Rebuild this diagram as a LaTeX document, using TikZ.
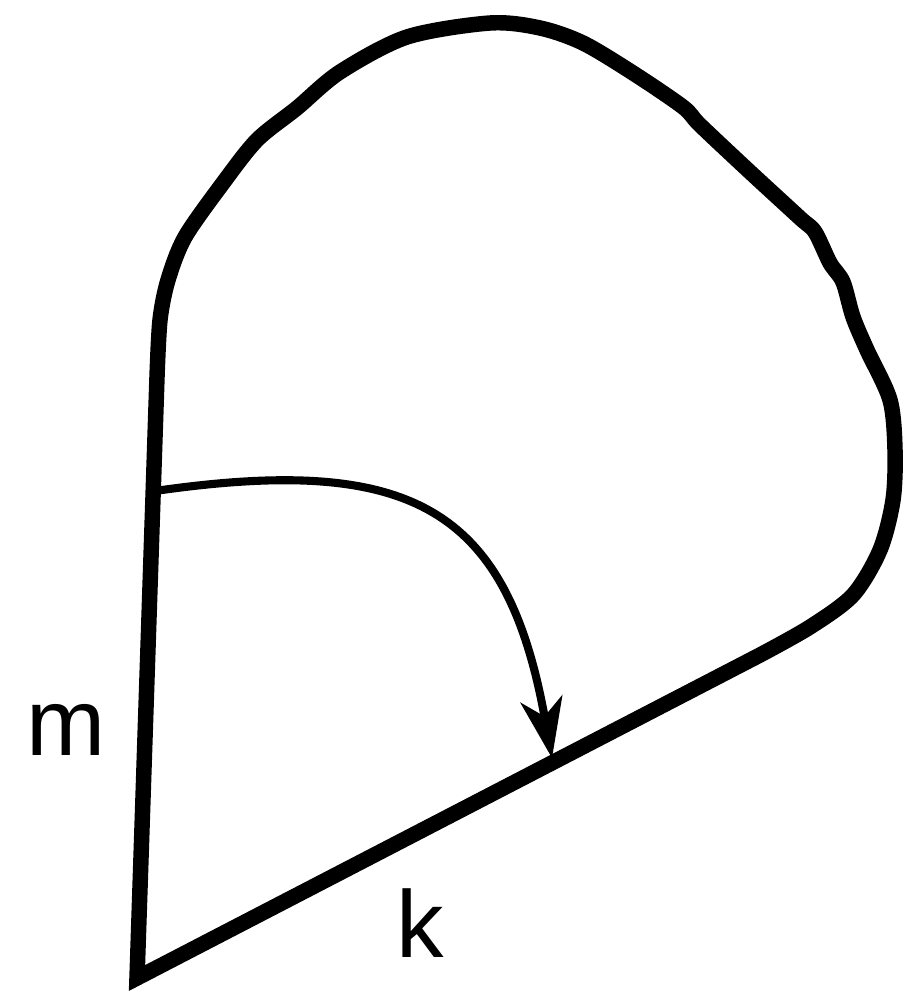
\documentclass[tikz,border=0pt]{standalone}
\usepackage{fontspec}
\setmainfont{Liberation Sans}
\usetikzlibrary{arrows.meta}

\begin{document}
\begin{tikzpicture}[x=0.01cm, y=-0.01cm,
  every node/.style={font=\fontsize{27}{32}\selectfont, inner sep=0pt, anchor=base},
  outline/.style={line width=4.4pt, line join=miter},
  move/.style={line width=2.3pt, -{Stealth[length=17pt, width=12pt, inset=5pt]}}]
  \useasboundingbox (0,0) rectangle (903,991);
  % ---------- OUTLINE ----------
  \coordinate (B) at (137,978);
  \coordinate (T) at (157,377);
  \draw[outline] (B) -- (T) -- plot[smooth, tension=0.5] coordinates {
    (157,377) (160,320) (168,280) (185,237) (223,183) (257,140)
    (297,108) (340,72) (407,37) (490,23) (540,28) (583,43) (633,73)
    (683,107) (700,125) (750,172) (800,218) (815,232) (830,263) (843,282)
    (853,317) (867,350) (890,400) (895,450) (893,500) (880,550) (853,595)
    (810,627) (760,655)} -- cycle;
  % ---------- ARROW ----------
  \coordinate (A1) at (155,491);
  \coordinate (A2) at (552,758);
  \draw[move] (A1) .. controls (412,454) and (507,508) .. (A2);
  % ---------- LABELS ----------
  \node (m) at (66,755) {m};
  \node (k) at (420,957) {k};
\end{tikzpicture}
\end{document}
